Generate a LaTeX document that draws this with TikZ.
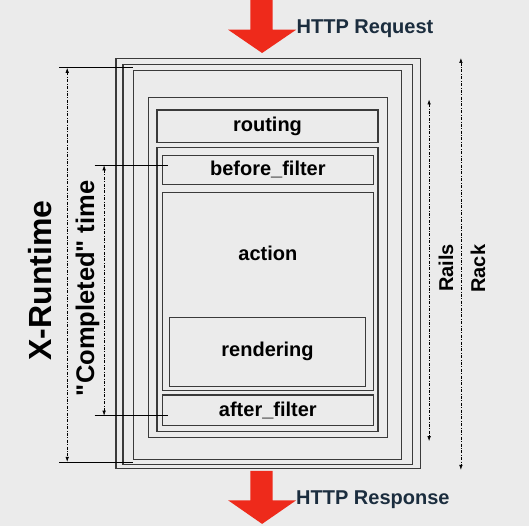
\documentclass[tikz,border=0pt]{standalone}
\usepackage{fontspec}
\setmainfont{Liberation Sans}
\newfontfamily\straightfont{Liberation Sans}
\usetikzlibrary{arrows.meta}

\definecolor{bggray}{HTML}{EBEBEB}
\definecolor{boxline}{HTML}{3A3A3A}
\definecolor{reqred}{HTML}{EE2A1B}
\definecolor{reqnavy}{HTML}{1B2D3E}

\begin{document}
\begin{tikzpicture}[x=1pt, y=-1pt,
  box/.style={draw=boxline, line width=1.1pt, inner sep=0pt},
  lbl/.style={font=\fontsize{20}{24}\selectfont\bfseries},
  httplbl/.style={font=\fontsize{20}{24}\selectfont\bfseries, text=reqnavy, inner sep=0pt, anchor=base west},
  timeline/.style={black, line width=0.6pt, dash pattern=on 3pt off 1.5pt on 0.8pt off 1.5pt, {Latex[length=5pt,width=3.5pt]}-{Latex[length=5pt,width=3.5pt]}},
  tickline/.style={black, line width=0.7pt}]
  \path[use as bounding box, fill=bggray] (0,0) rectangle (529,526);

  \node[box, minimum width=304.2, minimum height=410.4] (rack) at (268.1,263.6) {};
  \node[box, minimum width=289.5, minimum height=400] (middleware) at (267.75,264.8) {};
  \node[box, minimum width=268.3, minimum height=389.3] (app) at (267.45,264.95) {};
  \node[box, minimum width=238.7, minimum height=339.4] (rails) at (267.85,267.5) {};
  \node[box, lbl, minimum width=221, minimum height=32.4] (routing) at (267.5,126.2) {routing};
  \node[box, minimum width=221, minimum height=284.1] (controller) at (267.5,289.15) {};
  \node[box, lbl, minimum width=211.1, minimum height=29] (before) at (267.85,169.7) {before\_filter};
  \node[box, minimum width=211.1, minimum height=198.3] (action) at (267.85,291.45) {};
  \node[lbl] (actiontext) at (267.85,253.7) {action};
  \node[box, lbl, minimum width=195.7, minimum height=68.8] (rendering) at (267.55,351.8) {rendering};
  \node[box, lbl, minimum width=211.1, minimum height=30.7] (after) at (267.85,410.35) {after\_filter};

  \fill[reqred] (250.3,0) -- (272.6,0) -- (272.6,29.7) -- (296.2,29.7) -- (262.1,53) -- (228.1,29.7) -- (250.3,29.7) -- cycle;
  \fill[reqred] (250.3,470.9) -- (272.6,470.9) -- (272.6,500.3) -- (296.2,500.3) -- (262.1,523.9) -- (228.1,500.3) -- (250.3,500.3) -- cycle;
  \node[httplbl] (request) at (296.5,33.7) {HTTP Request};
  \node[httplbl] (response) at (296,504.6) {HTTP Response};

  \coordinate (xtop) at (59.4,67.8);
  \coordinate (xbot) at (59.4,461.9);
  \draw[tickline] (xtop) -- (xtop -| app.west);
  \draw[tickline] (xbot) -- (xbot -| app.west);
  \draw[timeline] ([xshift=7.8]xtop) -- ([xshift=7.8]xbot);
  \node[rotate=90, anchor=base, font=\fontsize{32}{36}\selectfont\bfseries] (xruntime) at (51.7,280.6) {X-Runtime};

  \coordinate (ctop) at (94.5,165.3);
  \coordinate (cbot) at (94.5,415.7);
  \draw[tickline] (ctop) -- ++(73.2,0);
  \draw[tickline] (cbot) -- ++(73.2,0);
  \draw[timeline] ([xshift=9.6]ctop) -- ([xshift=9.6]cbot);
  \node[rotate=90, anchor=base, font=\straightfont\fontsize{25.5}{30}\selectfont\bfseries] (completed) at (94,288.3) {"Completed" time};

  \coordinate (railstop) at (429.1,99.5);
  \coordinate (railsbot) at (429.1,441.2);
  \draw[timeline] (railstop) -- (railsbot);
  \node[lbl, rotate=90, anchor=base, inner sep=0pt] (railstext) at (453,268) {Rails};

  \coordinate (racktop) at (460.9,58);
  \coordinate (rackbot) at (460.9,469.9);
  \draw[timeline] (racktop) -- (rackbot);
  \node[lbl, rotate=90, anchor=base, inner sep=0pt] (racktext) at (485,268.7) {Rack};
\end{tikzpicture}
\end{document}
